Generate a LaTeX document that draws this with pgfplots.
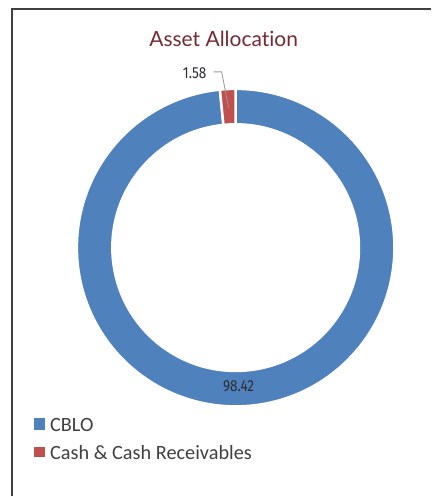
\documentclass[border=0pt]{standalone}
\usepackage{pgfplots}
\pgfplotsset{compat=1.18}
\usepackage{pgfplotstable}
\usepackage{fontspec}
\setmainfont{Carlito}
\newfontfamily\titlefont[Ligatures={NoCommon,NoRare,NoContextual}]{Lato}
\newfontfamily\numfont[FakeStretch=0.85]{Fira Sans}
\definecolor{cblo}{RGB}{79,129,189}
\definecolor{cash}{RGB}{192,80,77}
\definecolor{ttl}{RGB}{118,42,50}
\definecolor{txt}{RGB}{64,64,64}
\definecolor{num}{RGB}{45,45,50}
\definecolor{lead}{RGB}{150,150,150}
\pgfplotstableread{
name value
CBLO 98.42
Cash 1.58
}\alloc
\begin{document}
\begin{tikzpicture}
\pgfplotstablegetelem{0}{value}\of\alloc \let\va\pgfplotsretval
\pgfplotstablegetelem{1}{value}\of\alloc \let\vb\pgfplotsretval
\pgfmathsetmacro\tot{\va+\vb}
\pgfmathsetmacro\fa{\va/\tot}
\pgfmathsetmacro\aA{90}
\pgfmathsetmacro\aB{90-360*\fa}
\pgfmathsetmacro\aC{90-360}
\def\cx{236}\def\cy{249}\def\Ro{159}\def\Ri{123.5}
\begin{axis}[x=1bp,y=1bp,xmin=0,xmax=432,ymin=0,ymax=497,hide axis,clip=false,scale only axis]
\path (axis cs:0,0) rectangle (axis cs:432,497);
\draw[txt, line width=1.5bp] (axis cs:12,0) -- (axis cs:12,488) -- (axis cs:432,488);
\filldraw[fill=cblo, draw=white, line width=2.5bp] (axis cs:{\cx+\Ro*cos(\aA)},{\cy+\Ro*sin(\aA)}) arc[start angle=\aA, end angle=\aB, radius=\Ro bp] -- (axis cs:{\cx+\Ri*cos(\aB)},{\cy+\Ri*sin(\aB)}) arc[start angle=\aB, end angle=\aA, radius=\Ri bp] -- cycle;
\filldraw[fill=cash, draw=white, line width=2.5bp] (axis cs:{\cx+\Ro*cos(\aB)},{\cy+\Ro*sin(\aB)}) arc[start angle=\aB, end angle=\aC, radius=\Ro bp] -- (axis cs:{\cx+\Ri*cos(\aC)},{\cy+\Ri*sin(\aC)}) arc[start angle=\aC, end angle=\aB, radius=\Ri bp] -- cycle;
\draw[lead, line width=0.8bp] (axis cs:214,425) -- (axis cs:222,425) -- (axis cs:229,389);
\node[anchor=base east, inner sep=0pt, text=num, font=\numfont\fontsize{16bp}{18bp}\selectfont] at (axis cs:207,418) {\vb};
\node[anchor=base, inner sep=0pt, text=num, font=\numfont\fontsize{16bp}{18bp}\selectfont] at (axis cs:239,105) {\va};
\node[anchor=base, inner sep=0pt, text=ttl, font=\titlefont\fontsize{21bp}{25bp}\selectfont] at (axis cs:224,450) {Asset Allocation};
\fill[cblo] (axis cs:34,66) rectangle (axis cs:45,78);
\fill[cash] (axis cs:34,39) rectangle (axis cs:45,49);
\node[anchor=base west, inner sep=0pt, text=txt, font=\fontsize{20.3bp}{24bp}\selectfont] at (axis cs:50,65) {CBLO};
\node[anchor=base west, inner sep=0pt, text=txt, font=\fontsize{20.3bp}{24bp}\selectfont] at (axis cs:50,37) {Cash \& Cash Receivables};
\end{axis}
\end{tikzpicture}
\end{document}
